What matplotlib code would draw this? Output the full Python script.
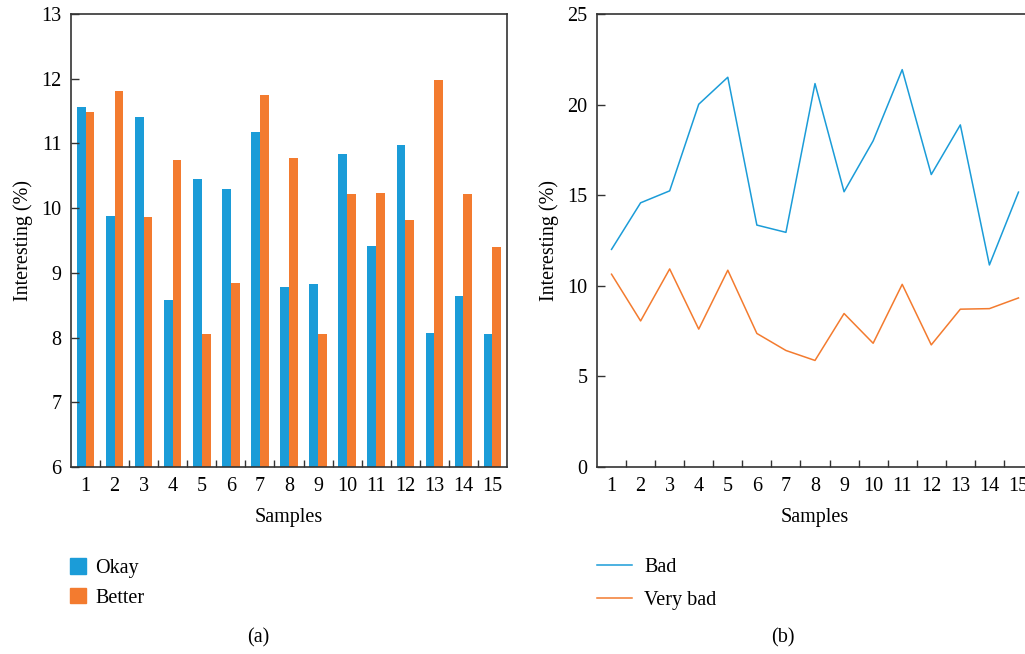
import matplotlib.pyplot as plt
import numpy as np
from matplotlib.patches import Patch
from matplotlib.lines import Line2D

plt.rcParams['font.family'] = ['Liberation Serif', 'DejaVu Serif']

# data
samples = np.arange(1, 16)
okay   = [11.56, 9.88, 11.41, 8.58, 10.45, 10.30, 11.18, 8.78, 8.83, 10.83, 9.41, 10.97, 8.07, 8.64, 8.06]
better = [11.48, 11.81, 9.86, 10.75, 8.06, 8.84, 11.75, 10.77, 8.06, 10.22, 10.24, 9.82, 11.98, 10.22, 9.40]
bad      = [12.01, 14.58, 15.24, 20.02, 21.51, 13.35, 12.95, 21.16, 15.19, 18.00, 21.93, 16.14, 18.88, 11.15, 15.17]
very_bad = [10.64, 8.06, 10.93, 7.61, 10.86, 7.37, 6.43, 5.88, 8.47, 6.83, 10.08, 6.74, 8.71, 8.74, 9.33]

BLUE = '#1b9cd8'
ORANGE = '#f37b2f'
FS = 14.5

W, H = 1025, 654
fig = plt.figure(figsize=(W / 100, H / 100), dpi=100)

def fig_rect(x0, y0, x1, y1):
    # pixel box -> figure fraction
    return [x0 / W, 1 - y1 / H, (x1 - x0) / W, (y1 - y0) / H]

ax1 = fig.add_axes(fig_rect(71, 14, 507, 467))
ax2 = fig.add_axes(fig_rect(597, 14, 1033, 467))

# (a) grouped bars
bw = 0.3
ax1.bar(samples - bw / 2, okay, width=bw, color=BLUE, label='Okay')
ax1.bar(samples + bw / 2, better, width=bw, color=ORANGE, label='Better')
ax1.set_ylim(6, 13)
ax1.set_yticks(range(6, 14))

# (b) lines
ax2.plot(samples, bad, color=BLUE, lw=1.1, label='Bad')
ax2.plot(samples, very_bad, color=ORANGE, lw=1.1, label='Very bad')
ax2.set_ylim(0, 25)
ax2.set_yticks(range(0, 26, 5))

for ax in (ax1, ax2):
    ax.set_xlim(0.5, 15.5)
    ax.set_xticks(samples)
    ax.set_xticks(np.arange(1.5, 15, 1), minor=True)
    ax.tick_params(axis='x', which='major', length=0, labelsize=FS, pad=7)
    ax.tick_params(axis='x', which='minor', direction='in', length=5, width=1, color='#333333')
    ax.tick_params(axis='y', direction='in', length=6, width=1, labelsize=FS, color='#333333', pad=7)
    for s in ax.spines.values():
        s.set_linewidth(1.2)
        s.set_color('#333333')
    ax.set_xlabel('Samples', fontsize=FS, labelpad=9)
    ax.set_ylabel('Interesting (%)', fontsize=FS, labelpad=6)

# legends below each panel
h1 = [Patch(color=BLUE, label='Okay'), Patch(color=ORANGE, label='Better')]
fig.legend(handles=h1, loc='upper left', bbox_to_anchor=(52 / W, 1 - 540 / H),
           frameon=False, fontsize=FS, handlelength=0.8, handleheight=0.8,
           handletextpad=0.45, labelspacing=0.5)
h2 = [Line2D([], [], color=BLUE, lw=1.1, label='Bad'),
      Line2D([], [], color=ORANGE, lw=1.1, label='Very bad')]
fig.legend(handles=h2, loc='upper left', bbox_to_anchor=(579 / W, 1 - 540 / H),
           frameon=False, fontsize=FS, handlelength=1.75,
           handletextpad=0.6, labelspacing=0.7)

fig.text(258 / W, 1 - 638 / H, '(a)', ha='center', va='center', fontsize=FS)
fig.text(783 / W, 1 - 638 / H, '(b)', ha='center', va='center', fontsize=FS)

fig.savefig('out.png', dpi=100)
